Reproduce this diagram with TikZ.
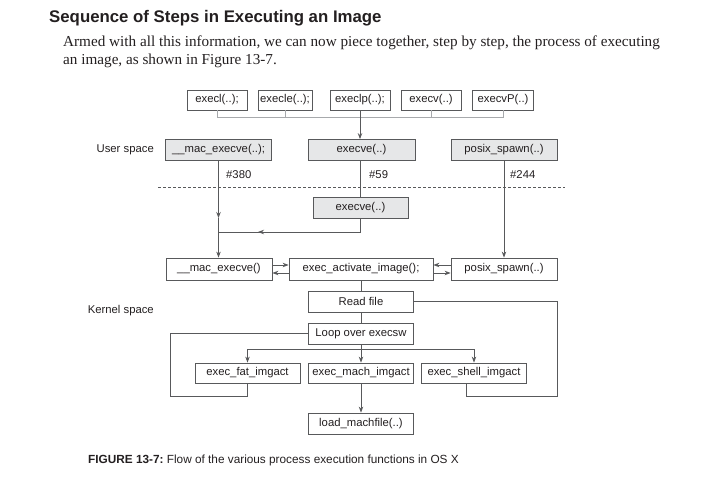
\documentclass[tikz,border=0pt]{standalone}
\usepackage{fontspec}
\setmainfont{Liberation Serif}
\setsansfont{Liberation Sans}
\usetikzlibrary{arrows.meta}
\definecolor{line-gray}{HTML}{58595B}
\definecolor{bus-gray}{HTML}{A7A9AC}
\definecolor{box-gray}{HTML}{E6E7E8}
\definecolor{text-dark}{HTML}{231F20}

\begin{document}
\begin{tikzpicture}[x=1pt, y=-1pt,
      every node/.style={font=\sffamily\fontsize{11.3}{13}\selectfont, text=text-dark, inner sep=0pt},
      fbox/.style={draw=line-gray, fill=white, line width=0.8pt, minimum width=105pt, minimum height=21pt},
      gbox/.style={fbox, fill=box-gray},
      arr/.style={draw=line-gray, line width=0.9pt, -{Stealth[length=6pt,width=4.5pt]}},
      ln/.style={draw=line-gray, line width=0.9pt},
      bus/.style={draw=bus-gray, line width=0.9pt}]
    \useasboundingbox (0,0) rectangle (722,489);
    % ---- Heading and text
    \node[anchor=west, font=\sffamily\bfseries\fontsize{16.8}{19}\selectfont] (title) at (49,18) {Sequence of Steps in Executing an Image};
    \node[anchor=west, font=\rmfamily\fontsize{15.2}{18}\selectfont] (para1) at (63,43) {Armed with all this information, we can now piece together, step by step, the process of executing};
    \node[anchor=west, font=\rmfamily\fontsize{15.2}{18}\selectfont] (para2) at (63,61) {an image, as shown in Figure 13-7.};
    % ---- Library calls
    \node[fbox, minimum width=60pt, minimum height=20pt] (execl)  at (217,100) {execl(..);};
    \node[fbox, minimum width=54pt, minimum height=20pt] (execle) at (285,100) {execle(..);};
    \node[fbox, minimum width=60pt, minimum height=20pt] (execlp) at (360,100) {execlp(..);};
    \node[fbox, minimum width=60pt, minimum height=20pt] (execv)  at (431,100) {execv(..)};
    \node[fbox, minimum width=61pt, minimum height=20pt] (execvP) at (503,100) {execvP(..)};
    \draw[bus] (execl.south) -- ++(0,7.5) -| (execvP.south);
    \draw[bus] (execle.south) -- ++(0,7.5);
    \draw[bus] (execlp.south) -- ++(0,7.5);
    \draw[bus] (execv.south) -- ++(0,7.5);
    % ---- User space
    \node[anchor=east] (user) at (154,150) {User space};
    \node[gbox, minimum width=106pt] (mac)    at (218.5,150) {\_\_mac\_execve(..);};
    \node[gbox, minimum width=107pt] (execve) at (361.5,150) {execve(..)};
    \node[gbox, minimum width=106pt] (posix)  at (504,150) {posix\_spawn(..)};
    \draw[arr] (execlp.south) -- (execlp.south |- execve.north);
    \node[anchor=west] (n380) at (226,175) {\#380};
    \node[anchor=west] (n59)  at (369,175) {\#59};
    \node[anchor=west] (n244) at (510,175) {\#244};
    \draw[draw=line-gray, line width=0.6pt, dash pattern=on 3pt off 2pt] (158,187.5) -- (565,187.5);
    % ---- Kernel entry
    \node[gbox, minimum width=95pt] (execve2) at (360.5,207.5) {execve(..)};
    \draw[ln] (execve.south) -- (execve2.north |- execve.south) -- (execve2.north);
    \coordinate (macmid) at (218.5,218);
    \coordinate (join) at (218.5,232);
    \coordinate (joinmid) at (258,232);
    \draw[arr] (mac.south) -- (macmid);
    \draw[ln] (macmid) -- (join);
    \draw[ln] (execve2.south) -- (execve2.south |- join) -- (joinmid);
    \draw[arr] (execve2.south |- join) -- (joinmid);
    \draw[ln] (joinmid) -- (join);
    \node[fbox, minimum width=106pt, minimum height=22pt] (mac2)  at (219,269) {\_\_mac\_execve()};
    \node[fbox, minimum width=144pt, minimum height=22pt] (act)   at (361,269) {exec\_activate\_image();};
    \node[fbox, minimum width=106pt, minimum height=22pt] (posix2) at (504,269) {posix\_spawn(..)};
    \draw[arr] (join) -- (mac2.north -| join);
    \draw[arr] (posix.south) -- (posix2.north);
    \draw[arr] ([yshift=4pt]mac2.east) -- ([yshift=4pt]act.west);
    \draw[arr] ([yshift=-4pt]act.west) -- ([yshift=-4pt]mac2.east);
    \draw[arr] ([yshift=4pt]posix2.west) -- ([yshift=4pt]act.east);
    \draw[arr] ([yshift=-4pt]act.east) -- ([yshift=-4pt]posix2.west);
    % ---- Kernel space
    \node[anchor=east] (kernel) at (154,311) {Kernel space};
    \node[fbox] (readfile) at (361,301.5) {Read file};
    \node[fbox] (loop)     at (361,333.5) {Loop over execsw};
    \draw[ln] (act.south) -- (readfile.north);
    \draw[ln] (readfile.south) -- (loop.north);
    \node[fbox, minimum height=20pt] (fat)   at (247.5,373) {exec\_fat\_imgact};
    \node[fbox, minimum height=20pt] (mach)  at (361,373) {exec\_mach\_imgact};
    \node[fbox, minimum height=20pt] (shell) at (474,373) {exec\_shell\_imgact};
    \node[fbox] (load) at (361,423.5) {load\_machfile(..)};
    \coordinate (split) at (361,349);
    \draw[ln] (loop.south) -- (split);
    \draw[arr] (split) -| (fat.north);
    \draw[arr] (split) -| (shell.north);
    \draw[arr] (split) -- (mach.north);
    \draw[arr] (mach.south) -- (load.north);
    \draw[ln] (readfile.east) -- (readfile.east -| posix2.east) -- (posix2.east |- 0,396) -| ([xshift=-8pt]shell.south);
    \draw[ln] (loop.west) -- (170.5,333.5) -- (170.5,396) -| (fat.south);
    % ---- Caption
    \node[anchor=west, font=\sffamily\fontsize{11.8}{13}\selectfont] (caption) at (88,460) {\textbf{FIGURE 13-7:}\ Flow of the various process execution functions in OS X};
  \end{tikzpicture}
\end{document}
